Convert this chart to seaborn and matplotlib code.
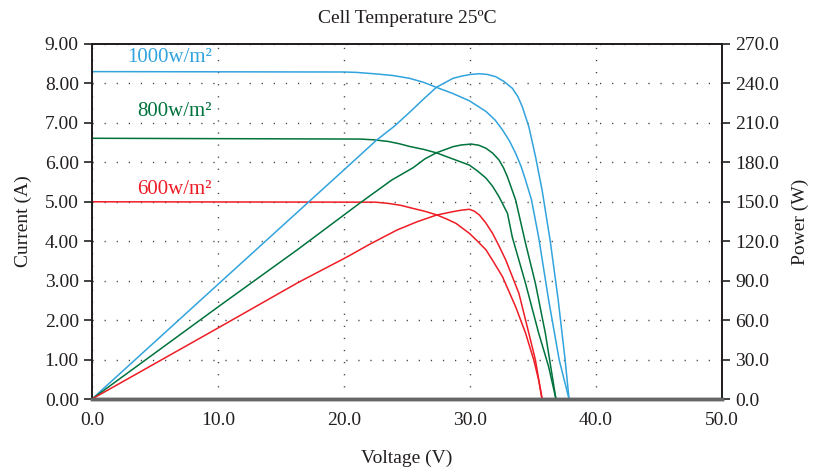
import numpy as np
import pandas as pd
import matplotlib
matplotlib.use("Agg")
import matplotlib.pyplot as plt
import seaborn as sns

# ---- data ----
irradiance = ["1000w/m²", "800w/m²", "600w/m²"]

v_iv_1000 = [0, 20.0, 21.0, 22.6, 23.9, 25.2, 26.3, 27.34, 28.6, 29.95, 31.27, 32.0, 32.58, 33.12, 33.62, 34.05, 34.41, 34.88, 35.45, 36.24, 37.08, 37.86]
i_iv_1000 = [8.30, 8.29, 8.28, 8.24, 8.20, 8.13, 8.03, 7.90, 7.75, 7.56, 7.29, 7.07, 6.82, 6.55, 6.23, 5.90, 5.55, 5.05, 4.10, 2.51, 0.99, 0.0]

v_iv_800 = [0, 21.3, 22.4, 23.5, 24.4, 25.24, 26.3, 27.34, 28.6, 29.95, 30.6, 31.27, 31.8, 32.3, 32.97, 33.36, 33.9, 34.41, 35.45, 36.24, 36.82]
i_iv_800 = [6.61, 6.59, 6.57, 6.53, 6.47, 6.40, 6.33, 6.24, 6.09, 5.93, 5.78, 5.60, 5.39, 5.13, 4.71, 4.10, 3.50, 2.93, 1.67, 0.82, 0.0]

v_iv_600 = [0, 22.5, 23.5, 24.5, 25.5, 26.4, 27.34, 28.1, 28.9, 29.95, 30.6, 31.27, 31.9, 32.58, 33.62, 34.41, 35.06, 35.45, 35.72]
i_iv_600 = [5.00, 4.99, 4.96, 4.91, 4.83, 4.76, 4.67, 4.57, 4.45, 4.20, 4.00, 3.78, 3.46, 3.10, 2.34, 1.67, 0.99, 0.48, 0.0]

v_pv_1000 = [0, 10, 20, 22.6, 24.0, 25.2, 26.3, 27.34, 28.65, 29.3, 30.0, 30.74, 31.4, 32.05, 32.7, 33.36, 33.8, 34.15, 34.67, 35.2, 35.72, 36.37, 37.0, 37.55, 37.86]
p_pv_1000 = [0, 87.2, 174.3, 197.0, 207.5, 218.0, 228.0, 237.1, 243.9, 245.5, 246.8, 247.4, 246.8, 245.1, 241.5, 236.3, 230.0, 222.3, 207.1, 184.3, 159.0, 120.0, 75.3, 29.7, 0.0]

v_pv_800 = [0, 10, 16.34, 21.3, 23.8, 25.5, 26.4, 27.34, 28.65, 29.3, 30.09, 30.7, 31.27, 31.8, 32.3, 32.65, 32.97, 33.62, 34.41, 35.19, 35.98, 36.82]
p_pv_800 = [0, 70.0, 113.8, 149.3, 166.6, 176.0, 182.5, 187.3, 191.9, 193.2, 193.9, 193.0, 190.7, 187.0, 181.8, 176.0, 169.0, 151.4, 118.4, 88.0, 50.0, 0.0]

v_pv_600 = [0, 10, 16.34, 20.27, 22.0, 24.2, 25.8, 27.34, 28.65, 29.3, 29.95, 30.35, 30.74, 31.25, 31.79, 32.3, 32.84, 33.88, 34.67, 35.19, 35.72]
p_pv_600 = [0, 54.0, 88.5, 108.2, 117.5, 128.5, 134.8, 139.9, 142.5, 143.6, 144.3, 142.8, 140.0, 134.0, 126.0, 116.5, 105.7, 80.4, 50.0, 29.7, 0.0]

x_ticks = [0, 10, 20, 30, 40, 50]
i_ticks = [0, 1, 2, 3, 4, 5, 6, 7, 8, 9]
p_ticks = [0, 30, 60, 90, 120, 150, 180, 210, 240, 270]

colors = {"1000w/m²": "#31A3DD", "800w/m²": "#00733D", "600w/m²": "#EE1C25"}

iv = pd.concat([
    pd.DataFrame({"V": v_iv_1000, "I": i_iv_1000, "G": irradiance[0]}),
    pd.DataFrame({"V": v_iv_800, "I": i_iv_800, "G": irradiance[1]}),
    pd.DataFrame({"V": v_iv_600, "I": i_iv_600, "G": irradiance[2]}),
], ignore_index=True)
pv = pd.concat([
    pd.DataFrame({"V": v_pv_1000, "P": p_pv_1000, "G": irradiance[0]}),
    pd.DataFrame({"V": v_pv_800, "P": p_pv_800, "G": irradiance[1]}),
    pd.DataFrame({"V": v_pv_600, "P": p_pv_600, "G": irradiance[2]}),
], ignore_index=True)

sns.set_style("white")
plt.rcParams["font.family"] = ["Liberation Serif", "DejaVu Serif"]
txt = "#231F20"

fig = plt.figure(figsize=(8.14, 4.70), dpi=100)
ax = fig.add_axes([92 / 814, 71 / 470, 630 / 814, 355 / 470])
ax2 = ax.twinx()

sns.lineplot(data=iv, x="V", y="I", hue="G", palette=colors, sort=False,
             estimator=None, ax=ax, linewidth=1.1, legend=False)
sns.lineplot(data=pv, x="V", y="P", hue="G", palette=colors, sort=False,
             estimator=None, ax=ax2, linewidth=1.1, legend=False)

ax.set_xlim(0, 50)
ax.set_ylim(0, 9)
ax2.set_ylim(0, 270)
ax.set_xticks(x_ticks)
ax.set_xticklabels([f"{t:.1f}" for t in x_ticks])
ax.set_yticks(i_ticks)
ax.set_yticklabels([f"{t:.2f}" for t in i_ticks])
ax2.set_yticks(p_ticks)
ax2.set_yticklabels([f"{t:.1f}" for t in p_ticks])

grid_kw = dict(color="#444444", linewidth=1.0, linestyle=(0, (0.9, 7.8)))
ax.grid(True, axis="both", **grid_kw)
ax.set_axisbelow(True)
ax2.grid(False)

for a in (ax, ax2):
    a.tick_params(axis="both", direction="out", length=6, width=1.3,
                  colors="#333333", labelcolor=txt, labelsize=14)
    for s in a.spines.values():
        s.set_color("#231F20")
        s.set_linewidth(1.3)
        s.set_visible(True)
    a.spines["bottom"].set_color("#666666")
    a.spines["bottom"].set_linewidth(2.5)

ax.set_xlabel("Voltage (V)", fontsize=14, color=txt, labelpad=15)
ax.set_ylabel("Current (A)", fontsize=14, color=txt, labelpad=9)
ax2.set_ylabel("Power (W)", fontsize=14, color=txt, labelpad=9)
ax.set_title("Cell Temperature 25ºC", fontsize=14, color=txt, pad=15)

ax.text(9.5, 8.67, irradiance[0], color=colors[irradiance[0]], ha="right", va="center", fontsize=15)
ax.text(9.5, 7.28, irradiance[1], color=colors[irradiance[1]], ha="right", va="center", fontsize=15)
ax.text(9.5, 5.30, irradiance[2], color=colors[irradiance[2]], ha="right", va="center", fontsize=15)

fig.savefig("out.png", dpi=100)
